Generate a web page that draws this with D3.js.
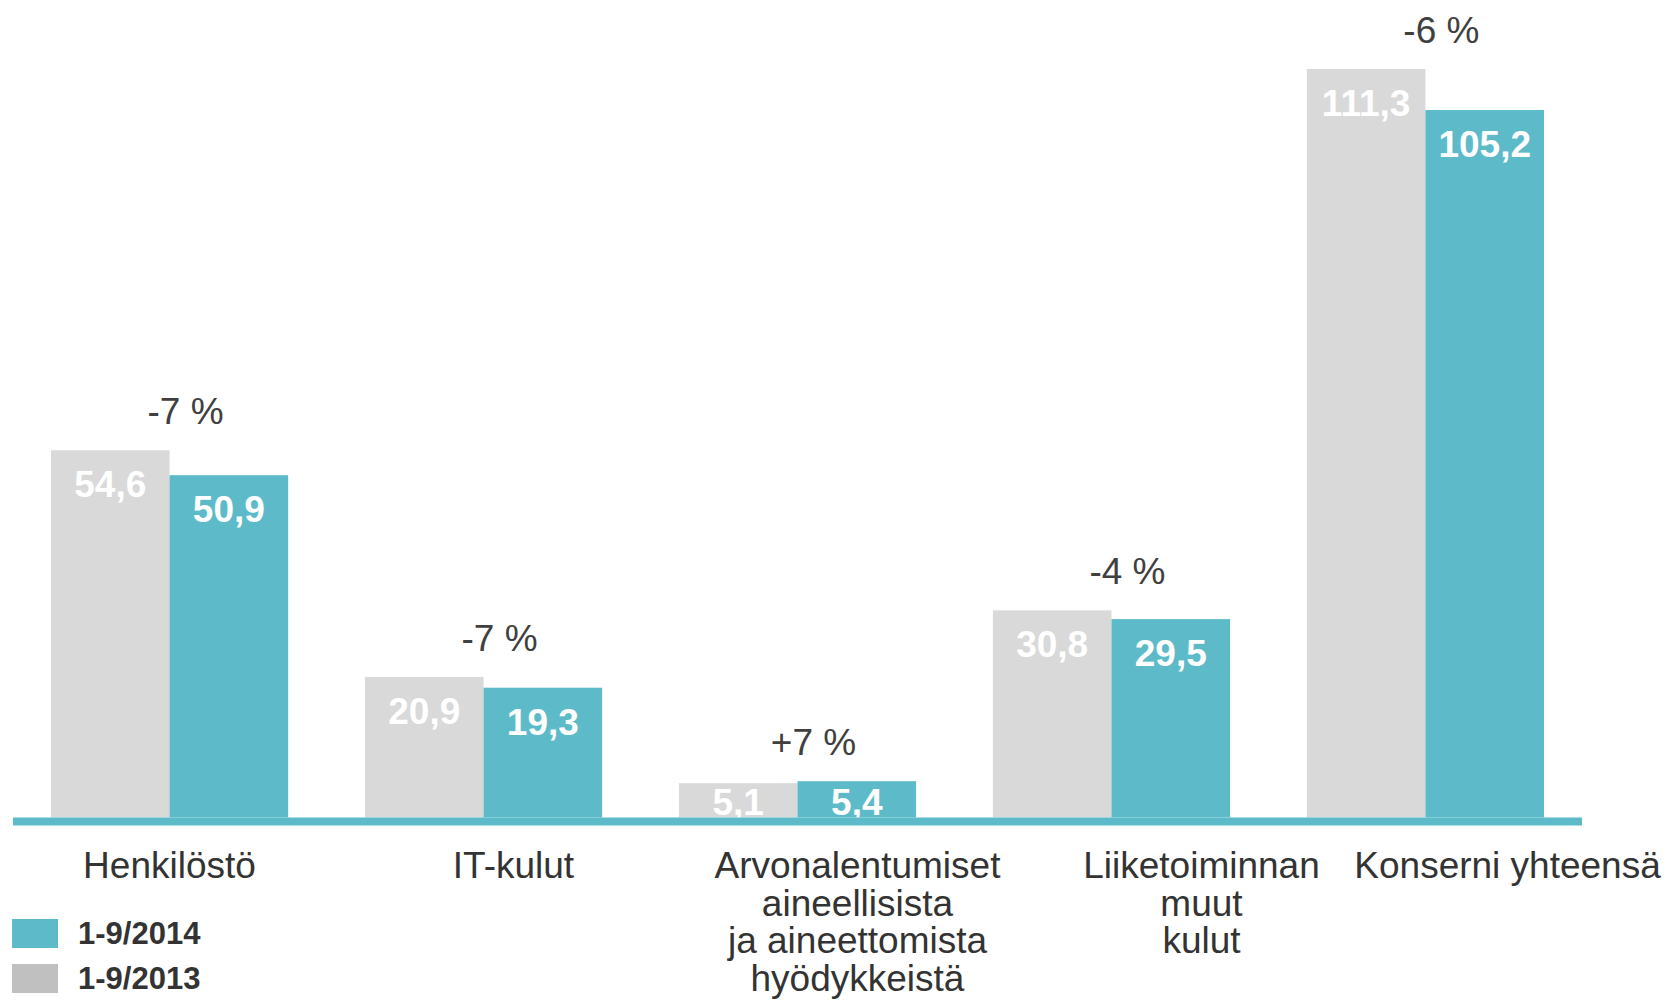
<!DOCTYPE html>
<html>
<head>
<meta charset="utf-8">
<script src="https://cdn.jsdelivr.net/npm/d3@7"></script>
<style>
  html, body { margin: 0; padding: 0; background: #ffffff; }
  svg { display: block; font-family: "Liberation Sans", Arial, sans-serif; }
</style>
</head>
<body>
<svg id="chart" width="1667" height="1001"></svg>
<script>
// ---- data ----
const categories = ["Henkilöstö", "IT-kulut", "Arvonalentumiset aineellisista ja aineettomista hyödykkeistä", "Liiketoiminnan muut kulut", "Konserni yhteensä"];
const categoryLines = [
  ["Henkilöstö"],
  ["IT-kulut"],
  ["Arvonalentumiset", "aineellisista", "ja aineettomista", "hyödykkeistä"],
  ["Liiketoiminnan", "muut", "kulut"],
  ["Konserni yhteensä"]
];
const series = ["1-9/2013", "1-9/2014"];
const values2013 = [54.6, 20.9, 5.1, 30.8, 111.3];
const values2014 = [50.9, 19.3, 5.4, 29.5, 105.2];
const changeLabels = ["-7 %", "-7 %", "+7 %", "-4 %", "-6 %"];
const legendOrder = ["1-9/2014", "1-9/2013"];

// ---- style ----
const teal = "#5dbbc9";
const barGray = "#d9d9d9";
const legendGray = "#c0c0c0";
const textColor = "#333333";
const fontSize = 37;

const svg = d3.select("#chart");
const W = 1667;

const axisLeft = 13, axisRight = 1582, y0 = 817.5;

const x = d3.scaleBand().domain(categories).range([axisLeft, axisRight])
  .paddingInner(0.2446).paddingOuter(0.121);
const xs = d3.scaleBand().domain(series).range([0, x.bandwidth()]).padding(0);
const y = d3.scaleLinear().domain([0, 120]).range([y0, y0 - 120 * 6.725]);
const color = d3.scaleOrdinal().domain(series).range([barGray, teal]);
const legendColor = d3.scaleOrdinal().domain(series).range([legendGray, teal]);

const rows = categories.map((c, i) => ({
  cat: c, i,
  vals: [{s: series[0], v: values2013[i]}, {s: series[1], v: values2014[i]}]
}));

const groups = svg.append("g").selectAll("g").data(rows).join("g")
  .attr("transform", d => `translate(${x(d.cat)},0)`);

groups.selectAll("rect").data(d => d.vals).join("rect")
  .attr("x", d => xs(d.s))
  .attr("width", xs.bandwidth())
  .attr("y", d => y(d.v))
  .attr("height", d => y0 - y(d.v))
  .attr("fill", d => color(d.s));

const fmt = v => v.toFixed(1).replace(".", ",");

groups.selectAll("text.val").data(d => d.vals).join("text")
  .attr("class", "val")
  .attr("x", d => xs(d.s) + xs.bandwidth() / 2)
  .attr("y", d => Math.min(y(d.v) + 47, y0 - 2.5))
  .attr("text-anchor", "middle")
  .attr("font-size", fontSize)
  .attr("font-weight", "bold")
  .attr("fill", "#ffffff")
  .text(d => fmt(d.v));

groups.append("text")
  .attr("x", x.bandwidth() / 2 + 16)
  .attr("y", d => y(d3.max(d.vals, v => v.v)) - 26)
  .attr("text-anchor", "middle")
  .attr("font-size", fontSize)
  .attr("fill", "#404040")
  .text(d => changeLabels[d.i]);

// baseline axis line
svg.append("rect")
  .attr("x", axisLeft).attr("width", axisRight - axisLeft)
  .attr("y", y0).attr("height", 8)
  .attr("fill", teal);

// category labels
const labelX = d3.scalePoint().domain(categories).range([169.5, 169.5 + 4 * 344]);
const catG = svg.append("g").selectAll("text").data(rows).join("text")
  .attr("text-anchor", "middle")
  .attr("font-size", fontSize)
  .attr("fill", textColor)
  .attr("y", 878);
catG.selectAll("tspan").data(d => categoryLines[d.i]).join("tspan")
  .attr("dy", (d, j) => j === 0 ? 0 : 37.5)
  .text(d => d);
catG.each(function(d) {
  const t = d3.select(this);
  const bb = this.getBBox();
  let cx = labelX(d.cat);
  if (cx + bb.width / 2 > W - 6) cx = W - 6 - bb.width / 2;
  t.attr("x", cx);
  t.selectAll("tspan").attr("x", cx);
});

// legend
const leg = svg.append("g").selectAll("g").data(legendOrder).join("g")
  .attr("transform", (d, i) => `translate(12,${919 + i * 45})`);
leg.append("rect").attr("width", 46).attr("height", 29).attr("fill", d => legendColor(d));
leg.append("text")
  .attr("x", 66).attr("y", 25)
  .attr("font-size", 31)
  .attr("font-weight", "bold")
  .attr("fill", textColor)
  .text(d => d);
</script>
</body>
</html>
